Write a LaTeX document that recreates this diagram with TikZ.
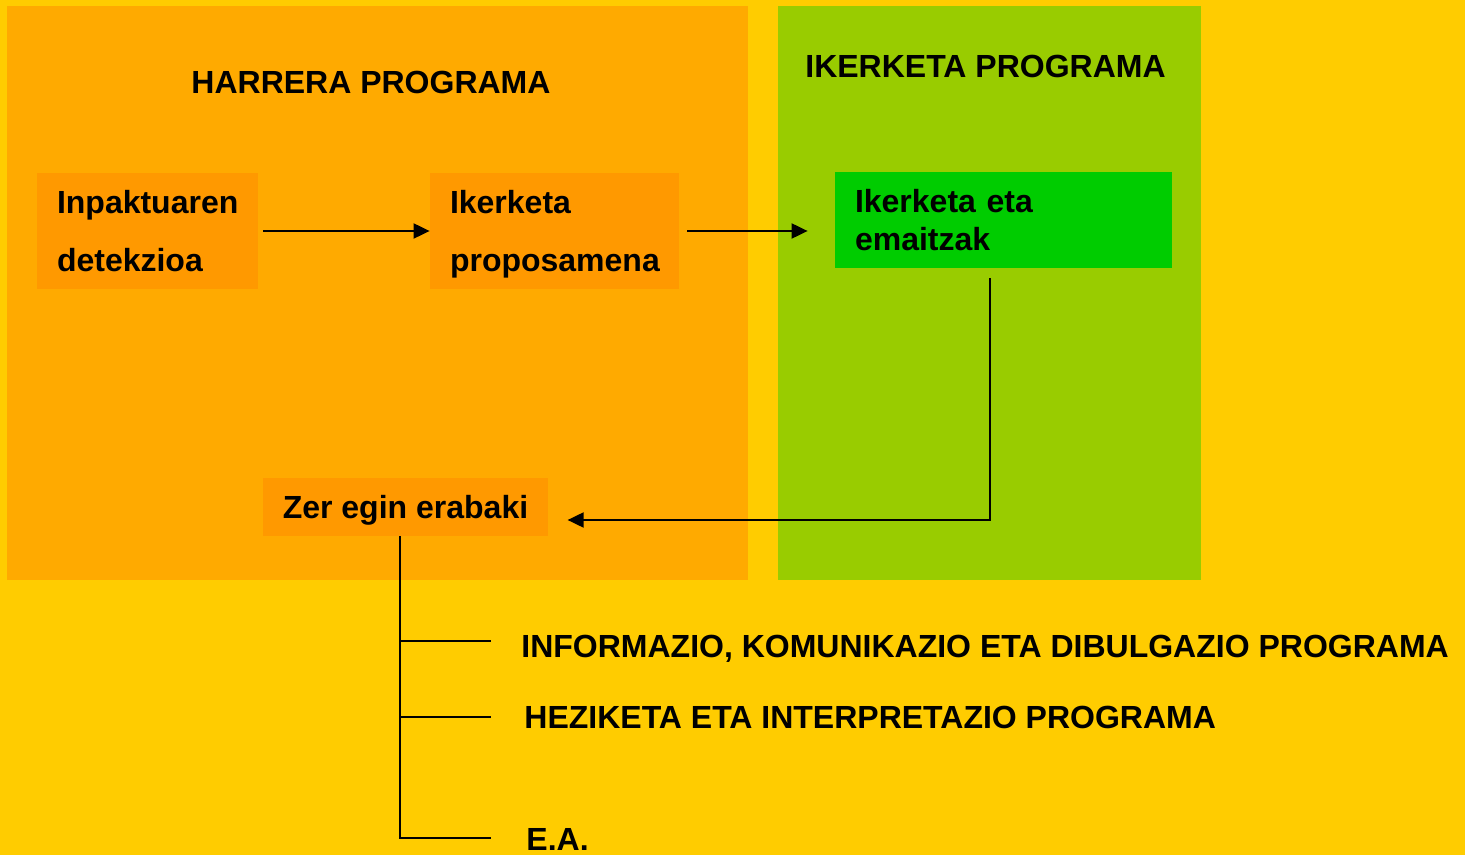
\documentclass[tikz,border=0pt]{standalone}
\usepackage{fontspec}
\setmainfont{Liberation Sans}
\usetikzlibrary{arrows.meta}
\definecolor{bgyellow}{HTML}{FFCC00}
\definecolor{harreraorange}{HTML}{FFAA00}
\definecolor{boxorange}{HTML}{FF9900}
\definecolor{ikerketagreen}{HTML}{99CC00}
\definecolor{resultgreen}{HTML}{00CC00}
\tikzset{
  stepnode/.style   = {fill=boxorange, inner xsep=10pt, inner ysep=0pt, align=left,
                       font=\fontsize{16}{29}\selectfont\bfseries},
  resultnode/.style = {stepnode, fill=resultgreen,
                       font=\fontsize{16}{19}\selectfont\bfseries},
  title/.style      = {inner sep=0pt, font=\fontsize{16}{19}\selectfont\bfseries},
  flow/.style       = {draw, line width=1pt, -{Triangle[length=8pt,width=7.5pt]}},
  branch/.style     = {draw, line width=1pt}
}
\begin{document}
\begin{tikzpicture}[x=0.5pt, y=-0.5pt]

  % background and panels
  \useasboundingbox (0,0) rectangle (1465,855);
  \fill[bgyellow] (0,0) rectangle (1465,855);
  \fill[harreraorange] (7,6) rectangle (748,580);
  \fill[ikerketagreen] (778,6) rectangle (1201,580);

  \node[title] (harreratitle) at (371,82) {HARRERA PROGRAMA};
  \node[title] (ikerketatitle) at (985.5,66) {IKERKETA PROGRAMA};

  % steps
  \node[stepnode, text width=90.5pt, minimum height=58pt] (detect) at (147.5,231) {Inpaktuaren\\detekzioa};
  \node[stepnode, text width=104.5pt, minimum height=58pt] (proposal) at (554.5,231) {Ikerketa\\\raisebox{0pt}[\height][0pt]{proposamena}};
  \node[resultnode, text width=148.5pt, minimum height=48pt] (results) at (1003.5,220) {Ikerketa eta\\emaitzak};
  \node[stepnode, text depth=0pt, minimum width=142.5pt, minimum height=29pt] (decide) at (405.5,507) {Zer egin erabaki};

  \draw[flow, shorten <=2.5pt] (detect.east) -- (proposal.west);
  \draw[flow, shorten <=4pt, shorten >=13.5pt] (proposal.east) -- (results.west |- proposal.east);

  \coordinate (corner) at (990,520);
  \draw[flow] ([yshift=-5pt]results.south -| corner) -- (corner) -- ([xshift=9.5pt]decide.east |- corner);

  % programs
  \coordinate (trunk) at (400,838);
  \coordinate (b1) at (491,641);
  \coordinate (b2) at (491,717);
  \coordinate (b3) at (491,838);
  \draw[branch] (decide.south -| trunk) -- (trunk) -- (b3);
  \draw[branch] (trunk |- b1) -- (b1);
  \draw[branch] (trunk |- b2) -- (b2);

  \node[title, anchor=base west] (infoprog) at (521,657) {INFORMAZIO, KOMUNIKAZIO ETA DIBULGAZIO PROGRAMA};
  \node[title, anchor=base west] (hezprog) at (524,728) {HEZIKETA ETA INTERPRETAZIO PROGRAMA};
  \node[title, anchor=base west] (eaprog) at (526,850) {E.A.};

\end{tikzpicture}
\end{document}
